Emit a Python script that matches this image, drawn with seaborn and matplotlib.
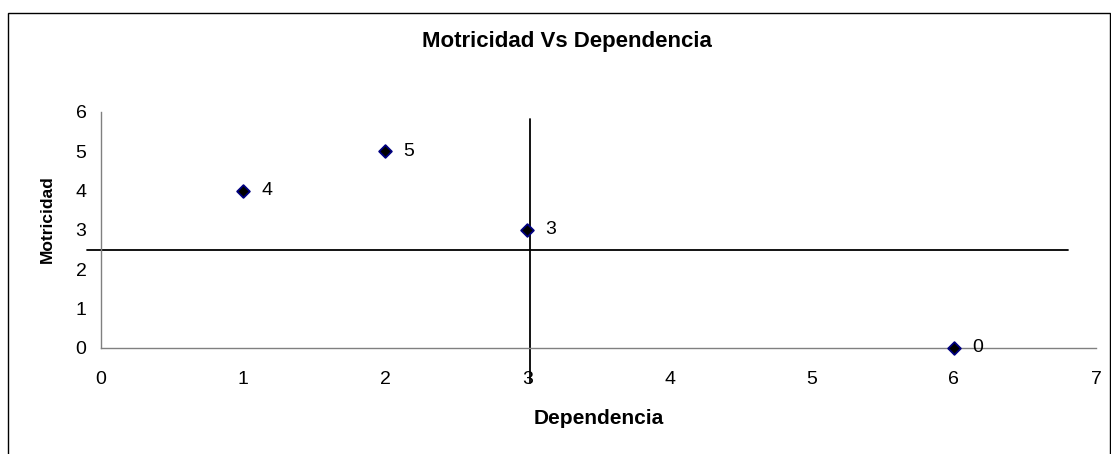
import matplotlib
matplotlib.use("Agg")
import matplotlib.pyplot as plt
import seaborn as sns
import pandas as pd
from matplotlib.patches import Rectangle

# Data
dependencia = [1, 2, 3, 6]
motricidad = [4, 5, 3, 0]
point_labels = ["4", "5", "3", "0"]

# Cross lines (quadrant divisions)
hline_x = [-0.1, 6.8]
hline_y = [2.5, 2.5]
vline_x = [3.02, 3.02]
vline_y = [-0.9, 5.83]

x_ticks = [0, 1, 2, 3, 4, 5, 6, 7]
y_ticks = [0, 1, 2, 3, 4, 5, 6]

sns.set_style("white")
plt.rcParams['font.family'] = ['Liberation Sans', 'DejaVu Sans']
plt.rcParams['text.color'] = 'black'

W, H = 1111, 454
fig = plt.figure(figsize=(W / 100, H / 100), dpi=100)
ax = fig.add_axes([101 / W, 1 - 348 / H, (1096 - 101) / W, (348 - 112) / H])

df = pd.DataFrame({"Dependencia": dependencia, "Motricidad": motricidad, "label": point_labels})

sns.lineplot(x=hline_x, y=hline_y, sort=False, estimator=None, color="black",
             linewidth=1.3, ax=ax)
sns.lineplot(x=vline_x, y=vline_y, sort=False, estimator=None, color="black",
             linewidth=1.3, ax=ax)
for ln in ax.lines:
    ln.set_clip_on(False)

sns.scatterplot(data=df, x="Dependencia", y="Motricidad", marker="D", s=42,
                color="black", edgecolor="#000080", linewidth=1.3, ax=ax, zorder=5,
                clip_on=False)

for xv, yv, lab in zip(df["Dependencia"], df["Motricidad"], df["label"]):
    ax.annotate(lab, (xv, yv), xytext=(13, 0), textcoords="offset points",
                ha="left", va="center", fontsize=14, color="black")

ax.set_xlim(0, 7)
ax.set_ylim(0, 6)
ax.set_xticks(x_ticks)
ax.set_yticks(y_ticks)
ax.set_xlabel("")
ax.set_ylabel("")
for s in ["top", "right"]:
    ax.spines[s].set_visible(False)
for s in ["left", "bottom"]:
    ax.spines[s].set_color("#808080")
    ax.spines[s].set_linewidth(1.0)
ax.tick_params(axis="both", which="major", labelsize=14, colors="black",
               length=3.5, width=0.8, color="#808080", direction="out")
ax.tick_params(axis="x", pad=13)
ax.tick_params(axis="y", pad=7)
ax.set_facecolor("white")

fig.text(567 / W, 1 - 42 / H, "Motricidad Vs Dependencia", ha="center", va="center",
         fontsize=16, fontweight="bold", color="black")
fig.text(599 / W, 1 - 418 / H, "Dependencia", ha="center", va="center",
         fontsize=15, fontweight="bold", color="black")
fig.text(47 / W, 1 - 219 / H, "Motricidad", ha="center", va="center",
         fontsize=12.5, fontweight="bold", rotation=90, color="black")

fig.patches.append(Rectangle((8 / W, -0.05), (1110 - 8) / W, 1.05 - 13 / H,
                             transform=fig.transFigure, fill=False,
                             edgecolor="black", linewidth=1.0, clip_on=False))

fig.savefig("out.png", dpi=100, facecolor="white")
